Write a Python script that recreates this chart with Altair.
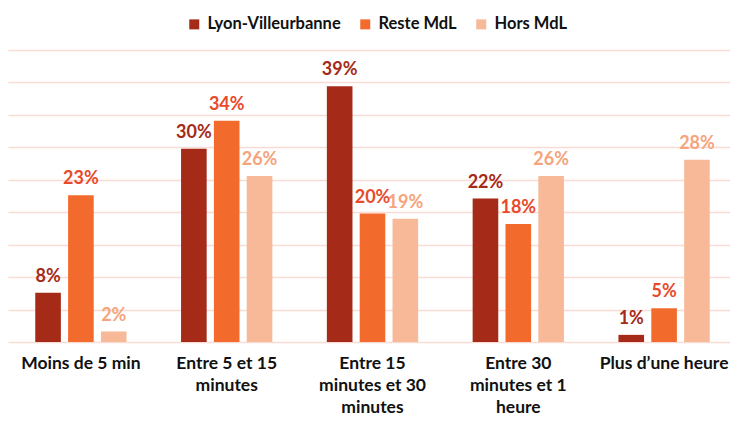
import altair as alt
import pandas as pd

categories = ["Moins de 5 min", "Entre 5 et 15\nminutes", "Entre 15\nminutes et 30\nminutes",
              "Entre 30\nminutes et 1\nheure", "Plus d\u2019une heure"]
series = ["Lyon-Villeurbanne", "Reste MdL", "Hors MdL"]
lyon = [7.6, 29.8, 39.4, 22.1, 1.1]
reste = [22.6, 34.1, 19.8, 18.2, 5.2]
hors = [1.6, 25.6, 19.0, 25.6, 28.1]
lyon_labels = ["8%", "30%", "39%", "22%", "1%"]
reste_labels = ["23%", "34%", "20%", "18%", "5%"]
hors_labels = ["2%", "26%", "19%", "26%", "28%"]

bar_colors = ["#A52A17", "#F26B2C", "#F7B998"]
label_colors = ["#A52A17", "#E84A2C", "#F5A47C"]

rows = []
for s, vals, labs in zip(series, [lyon, reste, hors], [lyon_labels, reste_labels, hors_labels]):
    for c, v, l in zip(categories, vals, labs):
        rows.append({"cat": c, "series": s, "value": v, "label": l})
df = pd.DataFrame(rows)

FONT = "Lato"

x_enc = alt.X("cat:N", sort=categories, title=None,
              scale=alt.Scale(paddingInner=0, paddingOuter=0, range=[0, 729]),
              axis=alt.Axis(labelAngle=0, labelFont=FONT, labelFontSize=17.5, labelFontWeight="bold",
                            labelColor="#111111", labelPadding=12, labelLineHeight=22,
                            ticks=False, domain=False, grid=False, labelLimit=200,
                            labelExpr="split(datum.label, '\\n')"))
xo_enc = alt.XOffset("series:N", sort=series,
                     scale=alt.Scale(paddingInner=0.22, paddingOuter=0.83))
y_enc = alt.Y("value:Q", title=None,
              scale=alt.Scale(domain=[0, 45], nice=False),
              axis=alt.Axis(values=list(range(0, 50, 5)), labels=False, ticks=False, domain=False,
                            grid=True, gridColor="#F9DCD4", gridWidth=1.3))

bars = alt.Chart(df).mark_bar().encode(
    x=x_enc, xOffset=xo_enc, y=y_enc,
    color=alt.Color("series:N", sort=series,
                    scale=alt.Scale(domain=series, range=bar_colors),
                    legend=alt.Legend(title=None, orient="none", direction="horizontal",
                                      legendX=178, legendY=-34, symbolType="square",
                                      symbolSize=100, symbolStrokeWidth=0,
                                      labelFont=FONT, labelFontSize=16.5, labelFontWeight="bold",
                                      labelColor="#111111", columnPadding=16, labelOffset=5)),
)

texts = alt.Chart(df).mark_text(font=FONT, fontSize=18, fontWeight="bold",
                                baseline="alphabetic", dy=-11).encode(
    x=x_enc, xOffset=xo_enc, y=y_enc,
    text=alt.Text("label:N"),
    color=alt.Color("series:N", scale=alt.Scale(domain=series, range=label_colors), legend=None),
)

chart = alt.layer(bars, texts).resolve_scale(color="independent").properties(
    width=722, height=292,
    autosize=alt.AutoSizeParams(type="none"),
    padding={"left": 0, "top": 42, "right": 0, "bottom": 77},
).configure_view(stroke=None)

chart.save("out.html", embed_options={"renderer": "svg", "actions": False})
